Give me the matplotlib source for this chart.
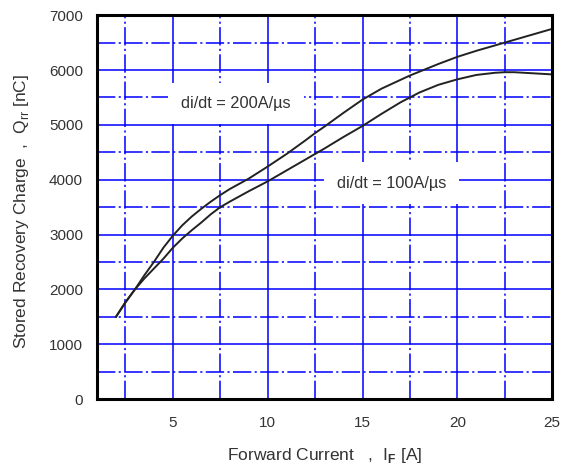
import matplotlib
matplotlib.use("Agg")
import matplotlib.pyplot as plt
from matplotlib.ticker import MultipleLocator

plt.rcParams['font.family'] = ['Liberation Sans', 'DejaVu Sans']
plt.rcParams['mathtext.fontset'] = 'custom'
plt.rcParams['mathtext.rm'] = 'Liberation Sans'
plt.rcParams['mathtext.bf'] = 'Liberation Sans:bold'

# di/dt = 200 A/us
if_200 = [2, 2.5, 3, 3.5, 4, 4.5, 5, 5.5, 6, 6.5, 7, 7.5, 8, 9, 10, 11, 12, 12.5,
          13, 14, 15, 16, 17, 17.5, 18, 19, 20, 21, 22, 23, 24, 25]
qrr_200 = [1500, 1770, 2000, 2260, 2500, 2760, 2980, 3170, 3330, 3470, 3600, 3720,
           3830, 4020, 4240, 4470, 4720, 4850, 4970, 5220, 5460, 5660, 5820, 5900,
           5970, 6110, 6240, 6350, 6450, 6550, 6650, 6750]

# di/dt = 100 A/us
if_100 = [2, 2.5, 3, 3.5, 4, 4.5, 5, 5.5, 6, 6.5, 7, 7.5, 8, 9, 10, 11, 12, 12.5,
          13, 14, 15, 16, 17, 17.5, 18, 19, 20, 21, 22, 22.5, 23, 24, 25]
qrr_100 = [1500, 1760, 2000, 2200, 2380, 2560, 2760, 2930, 3080, 3220, 3370, 3500,
           3600, 3790, 3970, 4170, 4370, 4470, 4570, 4780, 4980, 5200, 5410, 5500,
           5590, 5730, 5830, 5910, 5950, 5960, 5960, 5940, 5920]

labels = ['di/dt = 200A/\u00b5s', 'di/dt = 100A/\u00b5s']
label_pos = [(8.32, 5390), (16.52, 3940)]

fig = plt.figure(figsize=(5.64, 4.74), dpi=100)
ax = fig.add_axes([0.172, 0.158, 0.807, 0.810])

ax.set_xlim(1, 25)
ax.set_ylim(0, 7000)
ax.xaxis.set_major_locator(MultipleLocator(5))
ax.xaxis.set_minor_locator(MultipleLocator(2.5))
ax.yaxis.set_major_locator(MultipleLocator(1000))
ax.yaxis.set_minor_locator(MultipleLocator(500))

# blue grid: solid at major, dash-dot at minor
ax.grid(which='major', color='#0000ff', linewidth=1.1, linestyle='-', zorder=1)
ax.grid(which='minor', color='#0000ff', linewidth=1.1,
        linestyle=(0, (12, 2.2, 1.4, 2.2)), zorder=1)
ax.set_axisbelow(True)

ax.plot(if_200, qrr_200, color='#222222', linewidth=1.4, zorder=4)
ax.plot(if_100, qrr_100, color='#222222', linewidth=1.4, zorder=4)

for txt, (tx, ty) in zip(labels, label_pos):
    ax.text(tx, ty, txt, fontsize=11.8, color='#333333', ha='center', va='center',
            zorder=3, bbox=dict(facecolor='white', edgecolor='none',
                                boxstyle='square,pad=0.8'))

ax.tick_params(which='both', length=0, labelsize=11, labelcolor='#333333')
ax.tick_params(axis='y', pad=10)
ax.tick_params(axis='x', pad=12)

for sp in ax.spines.values():
    sp.set_linewidth(2.2)
    sp.set_color('black')
    sp.set_zorder(5)

ax.set_xlabel('Forward Current   ,  I$_\\mathbf{F}$ [A]', fontsize=12.5,
              color='#333333', labelpad=12)
ax.set_ylabel('Stored Recovery Charge  ,  Q$_\\mathrm{rr}$ [nC]', fontsize=12.5,
              color='#333333', labelpad=12)
ax.yaxis.set_label_coords(-0.145, 0.49)

fig.savefig('out.png', dpi=100)
